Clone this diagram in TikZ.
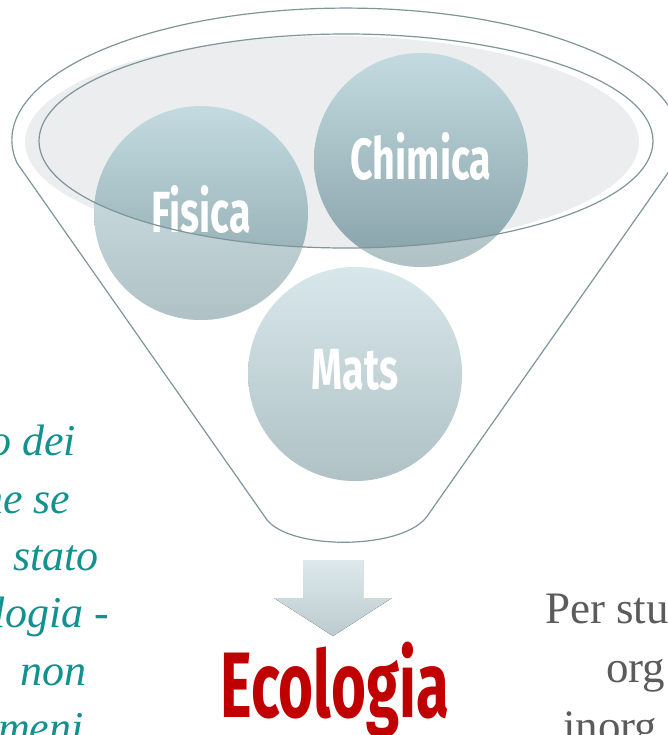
\documentclass[tikz,border=0pt]{standalone}
\usepackage{fontspec}
\setmainfont{Liberation Serif}
\newfontfamily\dinfont[FakeStretch=0.68]{Fira Sans}
\newfontfamily\ecofont[FakeStretch=0.645]{Fira Sans}
\usepackage{xcolor}
\usetikzlibrary{backgrounds}

\definecolor{rim}{HTML}{7E9599}
\definecolor{ballTop}{HTML}{C3DBE0}
\definecolor{ballBot}{HTML}{86A1A8}
\definecolor{glass}{HTML}{ECEDEF}
\definecolor{tealtext}{HTML}{12918F}
\definecolor{greytext}{HTML}{5B5B5B}
\definecolor{ecored}{HTML}{C00000}
\definecolor{arrowTop}{HTML}{DDE9EC}
\definecolor{arrowBot}{HTML}{BCCBCF}

\tikzset{
  ball/.style={circle, minimum size=214pt, inner sep=0pt, text depth=9pt,
    top color=ballTop, bottom color=ballBot, text=white,
    font=\dinfont\bfseries\fontsize{58}{60}\selectfont},
  side/.style={anchor=base west, inner sep=0pt, text=tealtext,
    font=\itshape\fontsize{44}{57}\selectfont},
  note/.style={anchor=base west, inner sep=0pt, text=greytext,
    font=\fontsize{45}{59}\selectfont},
  rimline/.style={draw=rim, line width=1.2pt}
}

\begin{document}
\begin{tikzpicture}[x=1pt,y=-1pt]
   \clip (0,0) rectangle (668,735);

   % funnel body
   \path[rimline] (17,163) arc[start angle=170, end angle=370, x radius=334, y radius=132]
      -- (428,515) .. controls (405,551) and (285,551) .. (265,517) -- cycle;
   \fill[glass] (332,142) ellipse[x radius=307, y radius=106];

   % the three balls
   \draw (201,213) node[ball] (fisica) {Fisica};
   \draw (421,160) node[ball] (chimica) {Chimica};
	 \draw (355,374) node[ball] (mats) {Mats};

   % front of the glass
   \begin{scope}
     \clip (39,141) arc[start angle=180, end angle=0, x radius=307, y radius=107]
        -- (668,735) -- (0,735) -- cycle;
     \fill[white, fill opacity=.35] (fisica.center) circle[radius=107];
     \fill[white, fill opacity=.35] (chimica.center) circle[radius=107];
     \fill[white, fill opacity=.35] (mats.center) circle[radius=107];
   \end{scope}
   \path[rimline] (346,141) ellipse[x radius=307, y radius=107];

   % arrow and result
   \fill[top color=arrowTop, bottom color=arrowBot] (303,560) -- (363,560) -- (363,598)
      -- (392,598) -- (333,636) -- (274,598) -- (303,598) -- cycle;
   \draw (335,717) node[anchor=base, inner sep=0pt, text=ecored,
      font=\ecofont\bfseries\fontsize{93}{95}\selectfont] (ecologia) {Ecologia};

   % side texts
   \draw (-11,455) node[side] (l1) {o dei};
   \draw (-19,513) node[side] (l2) {he se};
   \draw (13,570) node[side] (l3) {stato};
   \draw (-7,627) node[side] (l4) {logia -};
   \draw (20,685) node[side] (l5) {non};
   \draw (-2,742) node[side] (l6) {meni};

   \draw (545,623) node[note] (r1) {Per stu};
   \draw (606,682) node[note] (r2) {org};
   \draw (563,741) node[note] (r3) {inorg};
\end{tikzpicture}
\end{document}
